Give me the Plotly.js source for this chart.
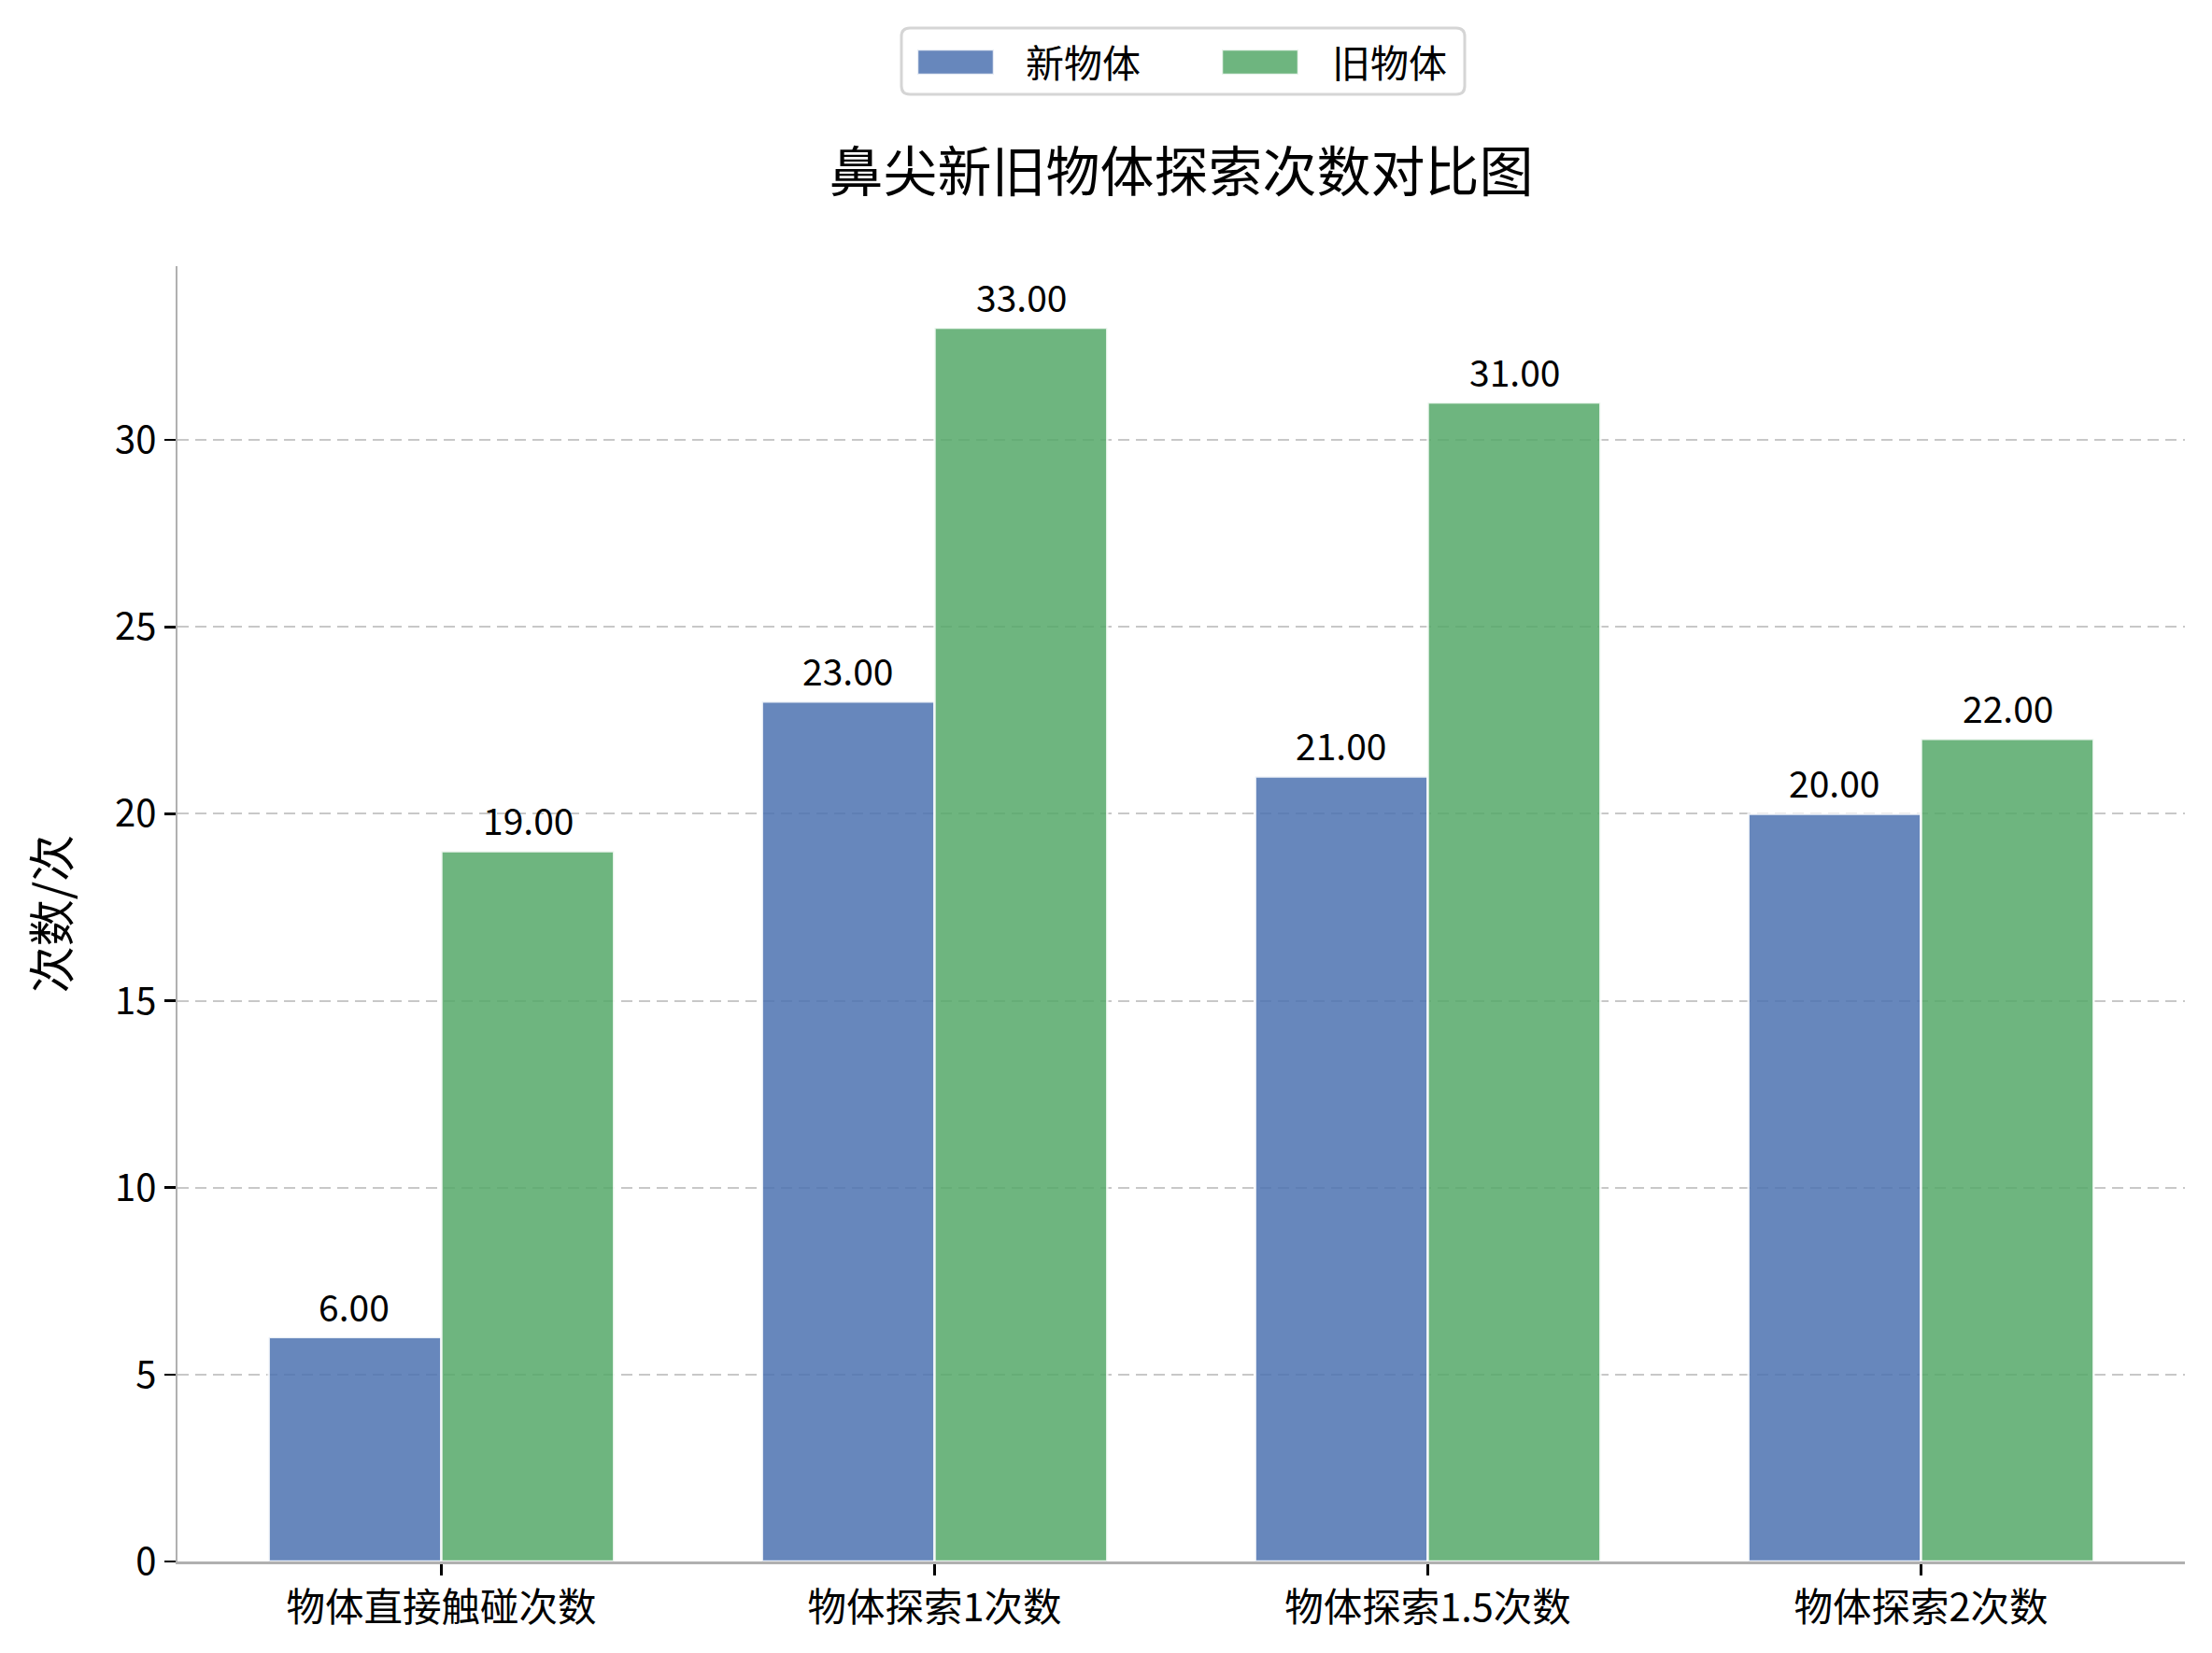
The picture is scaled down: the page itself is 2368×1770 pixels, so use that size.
<!DOCTYPE html>
<html>
<head>
<meta charset="utf-8">
<script src="https://cdn.plot.ly/plotly-3.0.1.min.js"></script>
<style>html,body{margin:0;padding:0;background:#fff;}</style>
</head>
<body>
<div id="chart" style="width:2368px;height:1770px;"></div>
<script>
const categories = ['物体直接触碰次数', '物体探索1次数', '物体探索1.5次数', '物体探索2次数'];
const newValues = [6, 23, 21, 20];
const oldValues = [19, 33, 31, 22];
const seriesNames = ['新物体', '旧物体'];
const yTicks = [0, 5, 10, 15, 20, 25, 30];
const titleText = '鼻尖新旧物体探索次数对比图';
const yTitle = '次数/次';

const FONT = '"Noto Sans CJK SC", "Noto Sans", sans-serif';
const W = 2368, H = 1770;
const M = {l: 190, r: 29, t: 285, b: 98};
const PW = W - M.l - M.r, PH = H - M.t - M.b;
const px = x => (x - M.l) / PW;
const py = y => (H - M.b - y) / PH;
const BAR_OFFSET_PX = 93;
const colors = ['rgba(76,114,176,0.85)', 'rgba(85,168,104,0.85)'];
const edge = 'rgba(255,255,255,0.85)';

const traces = [
  {
    type: 'bar', name: seriesNames[0], x: categories, y: newValues, showlegend: false,
    marker: {color: colors[0], line: {color: edge, width: 2.5}}, hoverinfo: 'skip'
  },
  {
    type: 'bar', name: seriesNames[1], x: categories, y: oldValues, showlegend: false,
    marker: {color: colors[1], line: {color: edge, width: 2.5}}, hoverinfo: 'skip'
  }
];

const annotations = [];
[newValues, oldValues].forEach((vals, si) => {
  vals.forEach((v, i) => {
    annotations.push({
      x: categories[i], y: v, xref: 'x', yref: 'y',
      text: v.toFixed(2), showarrow: false,
      xshift: si === 0 ? -BAR_OFFSET_PX : BAR_OFFSET_PX,
      yshift: 4, yanchor: 'bottom', xanchor: 'center',
      font: {family: FONT, size: 39, color: '#000000'}
    });
  });
});

// legend (box, swatches, labels)
const shapes = [];
const box = {x0: 965, x1: 1568, y0: 30, y1: 101, r: 9};
const rx = box.r / PW, ry = box.r / PH;
const bx0 = px(box.x0), bx1 = px(box.x1), by0 = py(box.y1), by1 = py(box.y0);
shapes.push({
  type: 'path', xref: 'paper', yref: 'paper', layer: 'above',
  path: `M${bx0 + rx},${by0} L${bx1 - rx},${by0} Q${bx1},${by0} ${bx1},${by0 + ry} ` +
        `L${bx1},${by1 - ry} Q${bx1},${by1} ${bx1 - rx},${by1} L${bx0 + rx},${by1} ` +
        `Q${bx0},${by1} ${bx0},${by1 - ry} L${bx0},${by0 + ry} Q${bx0},${by0} ${bx0 + rx},${by0} Z`,
  fillcolor: 'rgba(255,255,255,0.8)', line: {color: '#d5d5d5', width: 3}
});
const legendItems = [{sx: 982, tx: 1096}, {sx: 1308, tx: 1424}];
legendItems.forEach((it, i) => {
  shapes.push({
    type: 'rect', xref: 'paper', yref: 'paper', layer: 'above',
    x0: px(it.sx), x1: px(it.sx + 82), y0: py(80), y1: py(53),
    fillcolor: colors[i], line: {color: edge, width: 2.5}
  });
  annotations.push({
    xref: 'paper', yref: 'paper', x: px(it.tx), y: py(65),
    xanchor: 'left', yanchor: 'middle', showarrow: false,
    text: seriesNames[i], font: {family: FONT, size: 41, color: '#000000'}
  });
});

const layout = {
  width: W, height: H,
  paper_bgcolor: '#ffffff', plot_bgcolor: '#ffffff',
  margin: {l: M.l, r: M.r, t: M.t, b: M.b, autoexpand: false},
  font: {family: FONT, color: '#000000'},
  barmode: 'group', bargap: 0.3, bargroupgap: 0,
  title: {
    text: titleText, font: {family: FONT, size: 58, color: '#000000'},
    x: 0.5, xref: 'paper', xanchor: 'center',
    y: 1 - 185 / H, yref: 'container', yanchor: 'middle'
  },
  showlegend: false,
  xaxis: {
    type: 'category', range: [-0.535, 3.535],
    showline: true, linecolor: '#b0b0b0', linewidth: 2.5,
    ticks: 'outside', ticklen: 12, tickwidth: 2.5, tickcolor: '#000000',
    showgrid: false, zeroline: false,
    tickfont: {family: FONT, size: 41.5, color: '#000000'}
  },
  yaxis: {
    range: [0, 34.65], tickvals: yTicks, ticktext: yTicks.map(String),
    showline: true, linecolor: '#b0b0b0', linewidth: 2.5,
    ticks: 'outside', ticklen: 12, tickwidth: 2.5, tickcolor: '#000000',
    showgrid: true, gridcolor: '#c8c8c8', gridwidth: 2, griddash: '12px,7px',
    zeroline: false,
    tickfont: {family: FONT, size: 40, color: '#000000'},
    title: {text: yTitle, font: {family: FONT, size: 50, color: '#000000'}, standoff: 33}
  },
  shapes: shapes,
  annotations: annotations
};

Plotly.newPlot('chart', traces, layout, {displayModeBar: false, staticPlot: true});
</script>
</body>
</html>
